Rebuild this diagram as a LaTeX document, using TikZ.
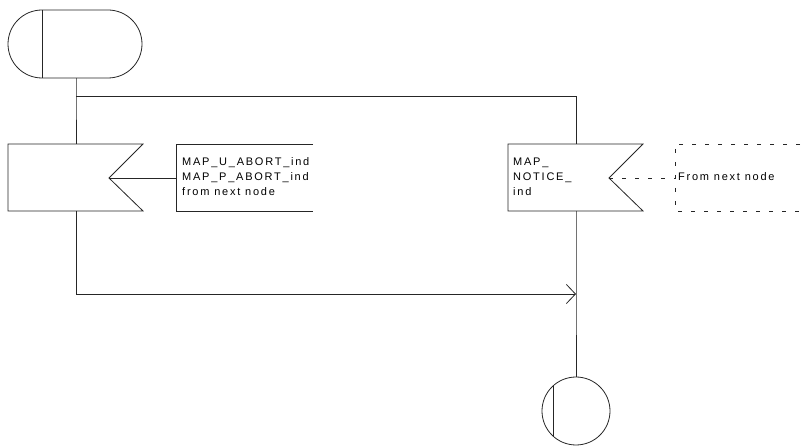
\documentclass[tikz,border=0pt]{standalone}
\usepackage{fontspec}
\setmainfont{Liberation Sans}[LetterSpace=16]
\usetikzlibrary{arrows.meta}
\begin{document}
\begin{tikzpicture}[x=1pt,y=-1pt,
  ln/.style={line width=0.8pt,draw=black!85},
  dsh/.style={line width=0.8pt,draw=black!85,dash pattern=on 4pt off 9pt},
  txt/.style={anchor=base west,inner sep=0pt,font=\fontsize{11}{13}\selectfont},
  tip/.style={-{Straight Barb[length=9pt,width=19pt,line width=0.8pt]}}]
\useasboundingbox (0,0) rectangle (804,446);
% start terminator
\draw[ln] (42,10) -- (108,10) arc[start angle=270,end angle=450,radius=34] -- (42,78) arc[start angle=90,end angle=270,radius=34] -- cycle;
\draw[ln] (42,10) -- (42,78);
\coordinate (startb) at (76,78);
\coordinate (br) at (76,96);
% left input signal
\draw[ln] (8,144) -- (143,144) -- (109,178) -- (143,211) -- (8,211) -- cycle;
\coordinate (in1t) at (76,144);
\coordinate (in1b) at (76,211);
\coordinate (in1n) at (109,178);
% comment bracket
\draw[ln] (313,144) -- (176,144) -- (176,211) -- (313,211);
\coordinate (c1) at (176,178);
\node[txt] (t1) at (182,166) {MAP\_U\_ABORT\_ind};
\node[txt] (t2) at (182,181) {MAP\_P\_ABORT\_ind};
\node[txt] (t3) at (182,196) {from next node};
% notice input
\draw[ln] (508,144) -- (643,144) -- (609,178) -- (643,211) -- (508,211) -- cycle;
\coordinate (in2t) at (576,144);
\coordinate (in2b) at (576,211);
\coordinate (in2n) at (609,178);
\node[txt] (n1) at (513,166) {MAP\_};
\node[txt] (n2) at (513,181) {NOTICE\_};
\node[txt] (n3) at (513,196) {ind};
% dashed comment
\draw[dsh] (800,144) -- (675,144) -- (675,211) -- (800,211);
\coordinate (c2) at (675,178);
\node[txt] (f1) at (678,181) {From next node};
% stop circle
\draw[ln] (576,411) circle[radius=34];
\draw[ln] (553,386) -- (553,436);
\coordinate (endt) at (576,377);
\coordinate (j) at (576,294);
\coordinate (lb) at (76,294);
% connectors
\draw[ln] (startb) -- (br) -- (in1t);
\draw[ln] (br) -- (576,96) -- (in2t);
\draw[ln] (in1n) -- (c1);
\draw[dsh] (in2n) -- (c2);
\draw[ln] (in1b) -- (lb);
\draw[ln,tip] (lb) -- (j);
\draw[ln] (in2b) -- (j) -- (endt);
\end{tikzpicture}
\end{document}
